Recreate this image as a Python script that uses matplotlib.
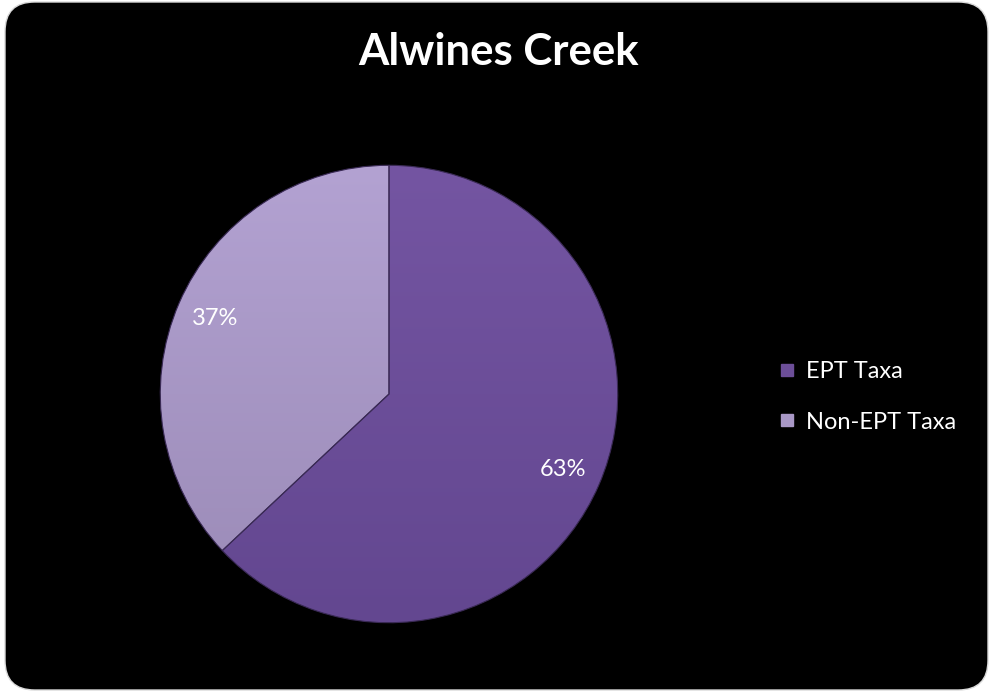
import numpy as np
import matplotlib.pyplot as plt
from matplotlib.patches import FancyBboxPatch
from matplotlib.colors import LinearSegmentedColormap

# data
labels = ['EPT Taxa', 'Non-EPT Taxa']
values = [63, 37]
title = 'Alwines Creek'

colors = ['#6c4e98', '#a998c6']
tops = ['#7455a2', '#b3a2d2']
bottoms = ['#634790', '#9a8ab6']

plt.rcParams['font.family'] = ['Lato', 'DejaVu Sans']

fig = plt.figure(figsize=(9.9, 6.94), dpi=100)
fig.patch.set_facecolor('white')

# rounded black chart area
bg = FancyBboxPatch((5 / 990, 4 / 694), 983 / 990, 688 / 694,
                    boxstyle='round,pad=0,rounding_size=0.03',
                    transform=fig.transFigure, facecolor='black',
                    edgecolor='#d9d9d9', linewidth=1, mutation_aspect=990 / 694,
                    zorder=-10)
fig.patches.append(bg)

ax = fig.add_axes([(389 - 231) / 990, 1 - (394 + 231) / 694, 462 / 990, 462 / 694])
ax.set_facecolor('none')
ax.set_zorder(2)
wedges, texts, autotexts = ax.pie(values, colors=colors, startangle=90, counterclock=False,
                                  autopct='%1.0f%%', pctdistance=0.83, radius=1,
                                  wedgeprops=dict(edgecolor='#3a2a55', linewidth=0.8),
                                  textprops=dict(color='white', fontsize=17))
# vertical gradient on slices
for w, c0, c1 in zip(wedges, tops, bottoms):
    cmap = LinearSegmentedColormap.from_list('g', [c1, c0])
    grad = np.linspace(0, 1, 256).reshape(-1, 1)
    im = ax.imshow(grad, cmap=cmap, extent=(-1, 1, -1, 1), origin='lower',
                   aspect='auto', zorder=0.5)
    im.set_clip_path(w)
    w.set_facecolor('none')
    w.set_zorder(1)
for t in autotexts:
    t.set_zorder(5)
ax.set_xlim(-1.01, 1.01)
ax.set_ylim(-1.01, 1.01)
ax.set_aspect('equal')
ax.axis('off')

fig.text(499 / 990, 1 - 52 / 694, title, color='white', fontsize=31.5, fontweight='bold',
         ha='center', va='center')

handles = [plt.Line2D([], [], marker='s', linestyle='none', markersize=9,
                      markerfacecolor=c, markeredgecolor=c) for c in colors]
leg = fig.legend(handles, labels, loc='center left', bbox_to_anchor=(752 / 990, 1 - 397 / 694),
                 frameon=False, fontsize=17, labelcolor='white', handletextpad=0.2,
                 labelspacing=1.25, handlelength=1.2)

fig.savefig('out.png', dpi=100, facecolor=fig.get_facecolor())
